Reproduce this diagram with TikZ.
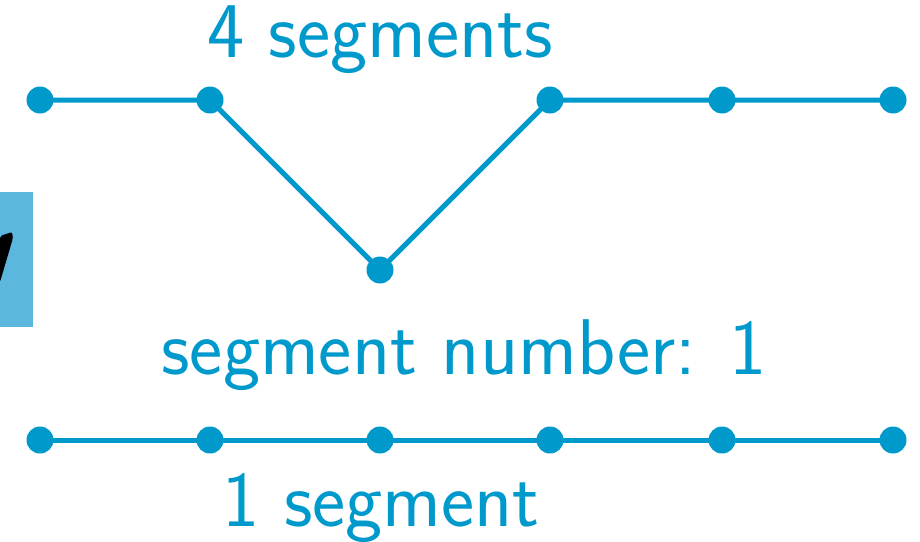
\documentclass[tikz,border=0pt]{standalone}
\usepackage{fontspec}
\setsansfont{Latin Modern Sans}
\definecolor{segblue}{RGB}{0,153,204}
\definecolor{boxblue}{RGB}{91,183,221}
\tikzset{
  pt/.style={circle,fill=segblue,inner sep=0pt,minimum size=27pt},
  seg/.style={draw=segblue,line width=5pt},
  lbl/.style={text=segblue,font=\sffamily\fontsize{79}{88}\selectfont,anchor=base,inner sep=0pt}
}
\begin{document}
\begin{tikzpicture}[x=1pt,y=-1pt]
\useasboundingbox (0,0) rectangle (920,541);
\fill[boxblue] (0,192) rectangle (33,327);
\fill[black,rounded corners=2pt] (0,236) -- (12,232) -- (13,238) -- (0,282) -- cycle;
% top row
\node[pt] (a1) at (40,100) {};
\node[pt] (a2) at (210,100) {};
\node[pt] (a3) at (380,270) {};
\node[pt] (a4) at (550,100) {};
\node[pt] (a5) at (722,100) {};
\node[pt] (a6) at (893,100) {};
\draw[seg] (a1.center) -- (a2.center) -- (a3.center) -- (a4.center) -- (a5.center) -- (a6.center);
% bottom row
\node[pt] (b1) at (40,440) {};
\node[pt] (b2) at (210,440) {};
\node[pt] (b3) at (380,440) {};
\node[pt] (b4) at (550,440) {};
\node[pt] (b5) at (722,440) {};
\node[pt] (b6) at (893,440) {};
\draw[seg] (b1.center) -- (b2.center) -- (b3.center) -- (b4.center) -- (b5.center) -- (b6.center);
% labels
\node[lbl] (t1) at (380,57) {4 segments};
\node[lbl] (t2) at (464,374) {segment number: 1};
\node[lbl] (t3) at (381,526) {1 segment};
\end{tikzpicture}
\end{document}
